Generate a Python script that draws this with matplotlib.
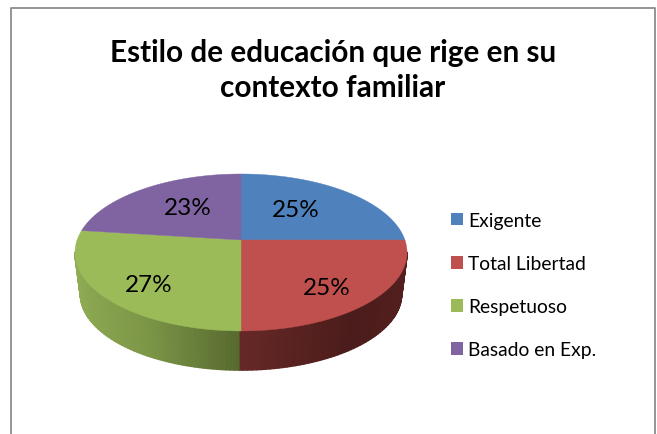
import matplotlib
matplotlib.use('Agg')
import matplotlib.pyplot as plt
from matplotlib.collections import PolyCollection
from matplotlib.patches import Patch
import numpy as np

title = 'Estilo de educación que rige en su\ncontexto familiar'
categories = ['Exigente', 'Total Libertad', 'Respetuoso', 'Basado en Exp.']
values = [25, 25, 27, 23]
colors = ['#4f81bd', '#c0504d', '#9bbb59', '#8064a2']

plt.rcParams['font.family'] = ['Lato', 'DejaVu Sans']

# axes in pixels of the picture, y going down
fig = plt.figure(figsize=(6.57, 4.35), dpi=100)
ax = fig.add_axes([0, 0, 1, 1])
ax.set_xlim(0, 657)
ax.set_ylim(435, 0)
ax.axis('off')

# perspective of the pie disc
persp = 0.159


def project(theta, cx, cy, a, b):
    # theta clockwise from 12 o'clock
    u = np.sin(theta)
    v = -np.cos(theta)
    w = 1 - persp * v
    return cx + a * u / w, cy + b * v / w


def top_rim(theta):
    return project(theta, 241, 241, 163.9, 76.5)


def bottom_rim(theta):
    return project(theta, 241, 283, 158.5, 74)


edges = np.cumsum([0] + values) / np.sum(values) * 2 * np.pi

# side wall, only the front part shows
start = np.pi - np.arccos(persp)
end = np.pi + np.arccos(persp)
theta_wall = np.linspace(start, end, 120)
quads = []
face = []
for t0, t1 in zip(theta_wall[:-1], theta_wall[1:]):
    x0, y0 = top_rim(t0)
    x1, y1 = top_rim(t1)
    x2, y2 = bottom_rim(t1)
    x3, y3 = bottom_rim(t0)
    quads.append([(x0, y0), (x1, y1), (x2, y2), (x3, y3)])
    u = np.sin((t0 + t1) / 2)
    if u > 0:
        # red wall
        r = np.interp(u, [0, 0.6, 1], [0x66, 0x4a, 0x55])
        g = np.interp(u, [0, 0.6, 1], [0x28, 0x1c, 0x20])
        b = np.interp(u, [0, 0.6, 1], [0x26, 0x1b, 0x1f])
    else:
        # green wall
        r = np.interp(u, [-1, -0.5, 0], [0x90, 0x7c, 0x56])
        g = np.interp(u, [-1, -0.5, 0], [0xac, 0x96, 0x69])
        b = np.interp(u, [-1, -0.5, 0], [0x54, 0x47, 0x2e])
    face.append((r / 255, g / 255, b / 255))
ax.add_collection(PolyCollection(quads, facecolors=face, edgecolors=face, linewidths=1.2))

# top of the pie
for i, color in enumerate(colors):
    theta = np.linspace(edges[i], edges[i + 1], 120)
    x, y = top_rim(theta)
    ax.fill(np.r_[241, x], np.r_[241, y], color=color, lw=0.3)

# percent labels
label_x = [296, 327, 149, 188]
label_y = [211, 289, 286, 209]
for v, lx, ly in zip(values, label_x, label_y):
    ax.text(lx, ly, f'{v}%', fontsize=17.5, ha='center', va='center', color='black')

ax.text(333, 70.5, title, fontsize=21.4, fontweight='bold', ha='center', va='center',
        linespacing=1.3, color='black')

# open frame, no line at the bottom
ax.plot([11, 11, 655, 655], [435, 8.5, 8.5, 435], color='#8c8c8c', lw=1.3)

handles = [Patch(facecolor=c, edgecolor='none') for c in colors]
ax.legend(handles, categories, loc='upper left', bbox_to_anchor=(451 / 657, 1 - 213 / 435),
          frameon=False, fontsize=13.9, handlelength=0.62, handleheight=0.62, handletextpad=0.26,
          labelspacing=1.35, borderpad=0, borderaxespad=0)

fig.savefig('out.png', dpi=100)
